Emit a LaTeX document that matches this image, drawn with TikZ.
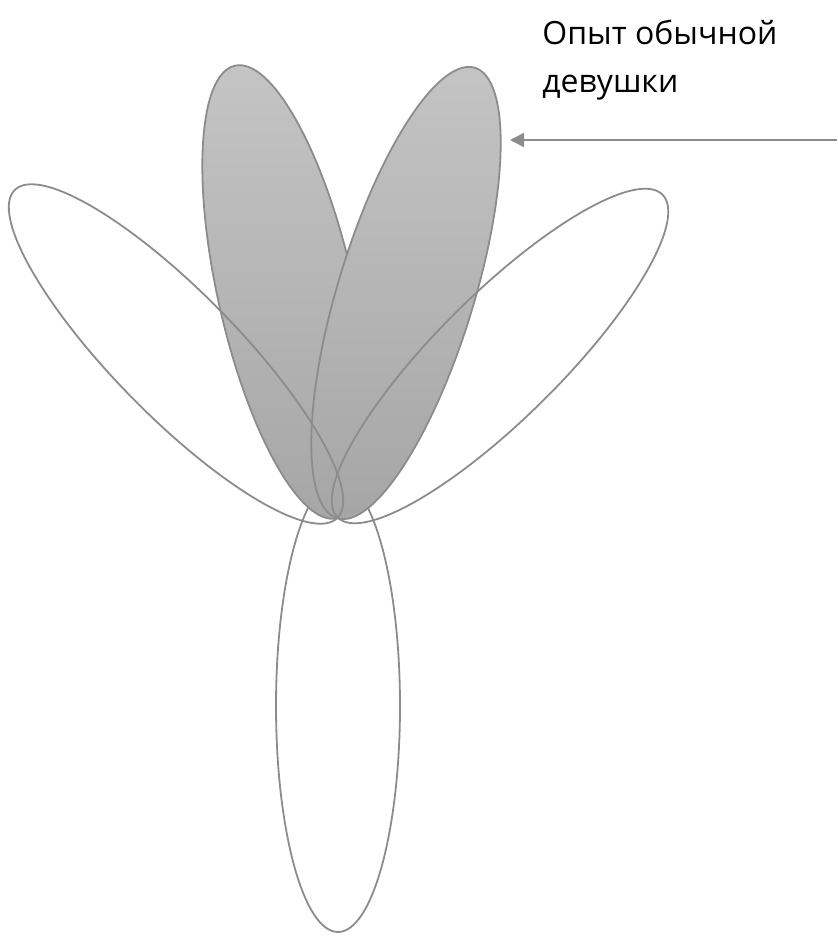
\documentclass[tikz,border=0pt]{standalone}
\usepackage{fontspec}
\setmainfont{Open Sans}
\usetikzlibrary{shapes.geometric, arrows.meta}
\tikzset{
  petal/.style={
    ellipse, draw=black!45, line width=0.9pt, inner sep=0pt,
    minimum width=230pt, minimum height=62pt
  },
  leaf/.style={
    petal, minimum height=68pt, top color=black!23, bottom color=black!35
  },
  arr/.style={-{Triangle[length=7pt, width=7pt]}, draw=black!45, line width=0.8pt},
  lbl/.style={
    anchor=north west, inner sep=0pt, align=left,
    font=\fontsize{16}{24}\selectfont
  }
}

\begin{document}
\begin{tikzpicture}[x=0.5pt, y=-0.5pt]
\useasboundingbox (0,0) rectangle (837,936);

% stem
\node[petal, rotate=90, minimum width=226pt] (stem) at (338,706) {};

% grey petals
\node[leaf, rotate=102.7, minimum width=232pt] (lgrey) at (286,292) {};
\node[leaf, rotate=73, minimum width=235.5pt] (rgrey) at (406,293) {};

% open petals
\node[petal, rotate=134.5] (lopen) at (176,354) {};
\node[petal, rotate=44.8, minimum width=229pt] (ropen) at (500,356) {};

% label and pointer
\node[lbl] (txt) at (542,20) {Опыт обычной\\девушки};
\coordinate (tail) at (837,140);
\coordinate (head) at (510,140);
\draw[arr] (tail) -- (head);

\end{tikzpicture}
\end{document}
